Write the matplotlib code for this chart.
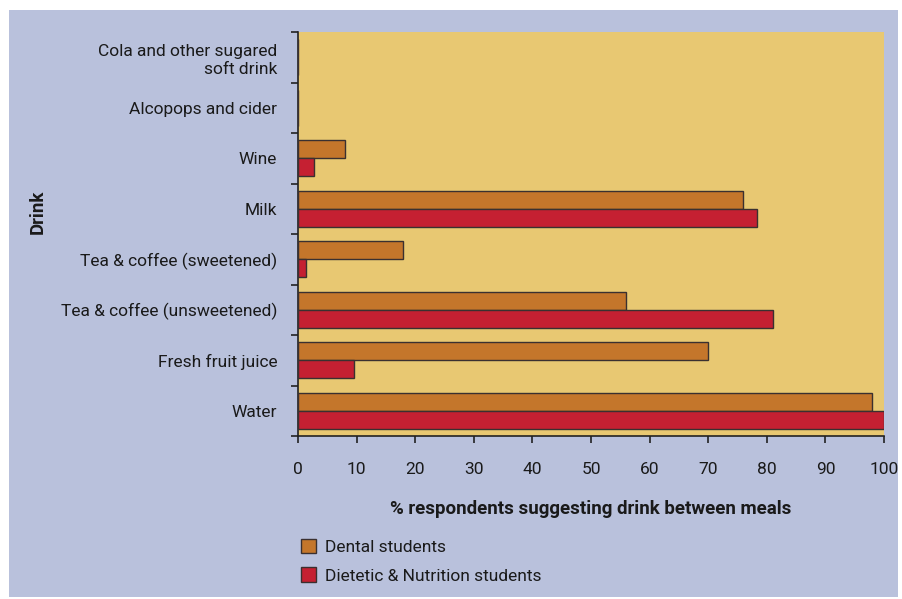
import matplotlib
matplotlib.use("Agg")
import matplotlib.pyplot as plt
import numpy as np
from matplotlib.patches import Rectangle, Patch

# -- Data ---------------------------------------------------------------------
drinks = [
    "Water",
    "Fresh fruit juice",
    "Tea & coffee (unsweetened)",
    "Tea & coffee (sweetened)",
    "Milk",
    "Wine",
    "Alcopops and cider",
    "Cola and other sugared\nsoft drink",
]
dental = [98, 70, 56, 18, 76, 8, 0, 0]
dietetic = [100, 9.5, 81, 1.4, 78.3, 2.8, 0, 0]
xticks = list(range(0, 101, 10))

BG = "#b9c1dc"
PLOT_BG = "#e8c872"
DENTAL_C = "#c4762b"
DIET_C = "#c52032"
EDGE = "#3a3030"

plt.rcParams["font.family"] = ["Roboto", "DejaVu Sans"]

fig = plt.figure(figsize=(9.02, 5.99), dpi=100, facecolor="white")
fig.patches.append(Rectangle((9 / 902, 1 - 597 / 599), 889 / 902, 587 / 599,
                             transform=fig.transFigure, facecolor=BG,
                             edgecolor="none", zorder=-5))

ax = fig.add_axes([298 / 902, 1 - 436 / 599, 586 / 902, 404 / 599])
ax.set_facecolor(PLOT_BG)

y = np.arange(len(drinks))
h = 0.36
ax.barh(y + h / 2, dental, height=h, color=DENTAL_C, edgecolor=EDGE,
        linewidth=1.0, label="Dental students", zorder=3)
ax.barh(y - h / 2, dietetic, height=h, color=DIET_C, edgecolor=EDGE,
        linewidth=1.0, label="Dietetic & Nutrition students", zorder=3)

ax.set_xlim(0, 100)
ax.set_ylim(-0.5, len(drinks) - 0.5)
ax.set_xticks(xticks)
ax.set_yticks(y)
ax.set_yticklabels(drinks, fontsize=12.5, color="#1a1a1a", linespacing=1.3)
ax.set_yticks(np.arange(-0.5, len(drinks), 1), minor=True)
ax.tick_params(axis="y", which="major", length=0, pad=15)
ax.tick_params(axis="y", which="minor", length=5, width=1.2, color="#222")
ax.tick_params(axis="x", length=5, width=1.2, color="#222", pad=14,
               labelsize=12.5, labelcolor="#1a1a1a")

for s in ["top", "right"]:
    ax.spines[s].set_visible(False)
for s in ["left", "bottom"]:
    ax.spines[s].set_color("#222")
    ax.spines[s].set_linewidth(1.2)

ax.set_xlabel("% respondents suggesting drink between meals", fontsize=13.5,
              fontweight="bold", color="#1a1a1a", labelpad=16)
fig.text(38 / 902, 1 - 212 / 599, "Drink", rotation=90, ha="center",
         va="center", fontsize=13.5, fontweight="bold", color="#1a1a1a")

handles = [
    Patch(facecolor=DENTAL_C, edgecolor=EDGE, label="Dental students"),
    Patch(facecolor=DIET_C, edgecolor=EDGE, label="Dietetic & Nutrition students"),
]
fig.legend(handles=handles, loc="upper left",
           bbox_to_anchor=(285 / 902, 1 - 523 / 599), frameon=False,
           fontsize=12.5, handlelength=0.9, handleheight=0.9,
           handletextpad=0.5, labelspacing=0.72, labelcolor="#1a1a1a")

fig.savefig("out.png", dpi=100, facecolor="white")
